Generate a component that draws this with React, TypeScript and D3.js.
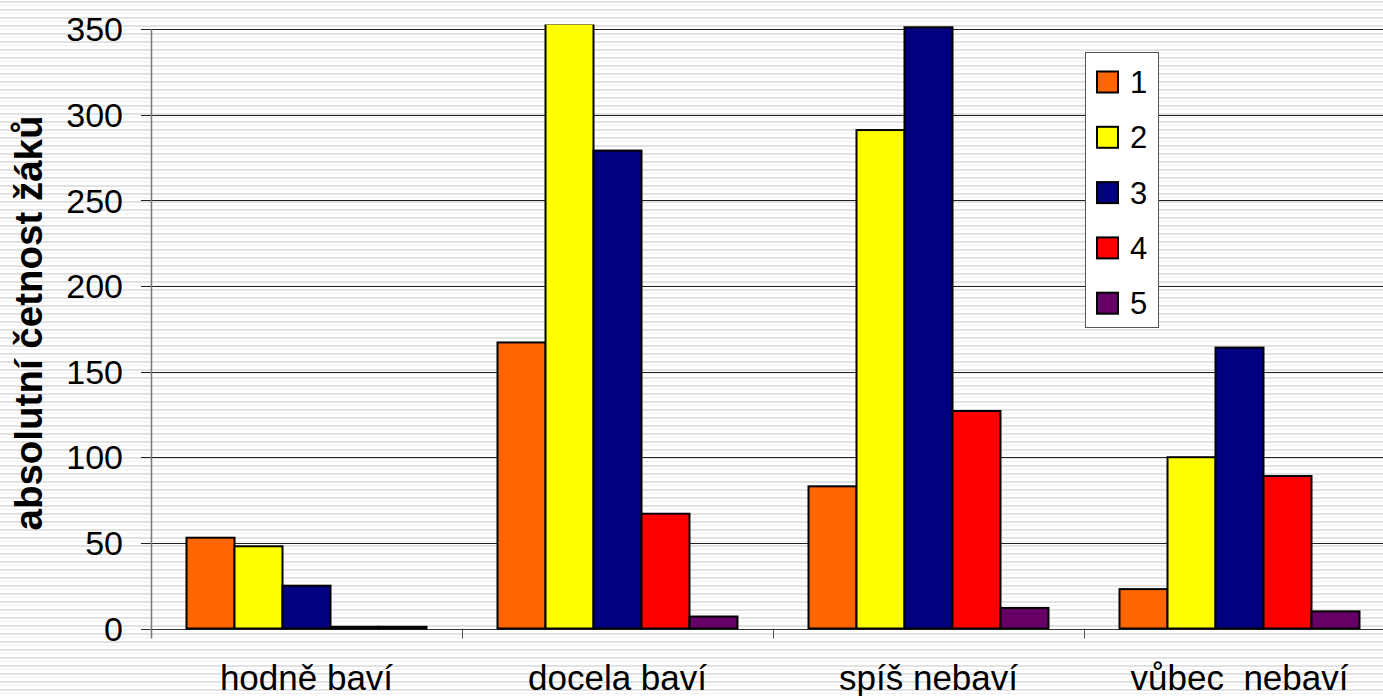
import React from "react";
import * as d3 from "d3";

const categories = ["hodně baví", "docela baví", "spíš nebaví", "vůbec  nebaví"];
const seriesNames = ["1", "2", "3", "4", "5"];
const seriesColors = ["#FF6600", "#FFFF00", "#000080", "#FF0000", "#660066"];
const s1 = [53, 167, 83, 23];
const s2 = [48, 353, 291, 100];
const s3 = [25, 279, 351, 164];
const s4 = [1, 67, 127, 89];
const s5 = [1, 7, 12, 10];
const yTicks = [0, 50, 100, 150, 200, 250, 300, 350];
const yTitle = "absolutní četnost žáků";

const W = 1383;
const H = 696;
const FONT = "'Liberation Sans', Arial, sans-serif";

export default function App() {
  const series = [s1, s2, s3, s4, s5];
  const x0 = d3.scaleBand<string>().domain(categories).range([151, 1395]).padding(0);
  const x1 = d3
    .scaleBand<string>()
    .domain(seriesNames)
    .range([0, x0.bandwidth()])
    .paddingInner(0)
    .paddingOuter(0.74);
  const y = d3.scaleLinear().domain([0, 350]).range([628.5, 29]);
  const clipTop = y(352.6);

  return (
    <svg
      width={W}
      height={H}
      style={{ position: "absolute", left: 0, top: 0, display: "block" }}
      fontFamily={FONT}
    >
      <defs>
        <pattern id="stripes" width={8} height={8} patternUnits="userSpaceOnUse">
          <rect x={0} y={0} width={8} height={8} fill="#ffffff" />
          <rect x={0} y={1} width={8} height={2} fill="#e2e2e2" />
          <rect x={0} y={5} width={8} height={1} fill="#f1f1f1" />
        </pattern>
        <clipPath id="plotClip">
          <rect x={0} y={clipTop} width={W} height={H - clipTop} />
        </clipPath>
      </defs>
      <rect x={0} y={0} width={W} height={H} fill="url(#stripes)" />

      {/* gridlines */}
      {yTicks.map((t) => (
        <line
          key={"g" + t}
          x1={141}
          x2={W}
          y1={Math.round(y(t)) + 0.5}
          y2={Math.round(y(t)) + 0.5}
          stroke={t === 0 ? "#333" : "#222"}
          strokeWidth={1}
        />
      ))}

      {/* y axis */}
      <line x1={151.5} x2={151.5} y1={y(350)} y2={y(0) + 10} stroke="#777" strokeWidth={1.5} />
      {yTicks.map((t) => (
        <text
          key={"t" + t}
          x={123}
          y={y(t)}
          dy="0.36em"
          textAnchor="end"
          fontSize={34}
          fill="#000"
        >
          {t}
        </text>
      ))}

      {/* category ticks */}
      {categories.slice(1).map((c) => (
        <line
          key={"ct" + c}
          x1={(x0(c) as number) + 0.5}
          x2={(x0(c) as number) + 0.5}
          y1={y(0)}
          y2={y(0) + 10}
          stroke="#555"
          strokeWidth={1}
        />
      ))}

      {/* bars */}
      <g clipPath="url(#plotClip)">
        {categories.map((c, ci) =>
          series.map((s, si) => {
            const v = s[ci];
            const bx = (x0(c) as number) + (x1(seriesNames[si]) as number);
            const by = y(v);
            return (
              <rect
                key={c + si}
                x={bx}
                y={by}
                width={x1.bandwidth()}
                height={y(0) - by}
                fill={seriesColors[si]}
                stroke="#000"
                strokeWidth={2}
              />
            );
          })
        )}
      </g>

      {/* category labels */}
      {categories.map((c) => (
        <text
          key={"cl" + c}
          x={(x0(c) as number) + x0.bandwidth() / 2}
          y={690}
          textAnchor="middle"
          fontSize={35}
          fill="#000"
          style={{ whiteSpace: "pre" }}
        >
          {c}
        </text>
      ))}

      {/* y title */}
      <text
        transform={`translate(42, 323) rotate(-90)`}
        textAnchor="middle"
        fontSize={38.5}
        fontWeight="bold"
        fill="#000"
      >
        {yTitle}
      </text>

      {/* legend */}
      <rect x={1085.5} y={52.5} width={73} height={275} fill="#fff" stroke="#555" strokeWidth={1} />
      {seriesNames.map((n, i) => {
        const cy = 82 + i * 55.3;
        return (
          <g key={"l" + n}>
            <rect
              x={1097}
              y={cy - 10.5}
              width={21}
              height={21}
              fill={seriesColors[i]}
              stroke="#000"
              strokeWidth={2}
            />
            <text x={1130} y={cy} dy="0.36em" fontSize={31} fill="#000">
              {n}
            </text>
          </g>
        );
      })}
    </svg>
  );
}
